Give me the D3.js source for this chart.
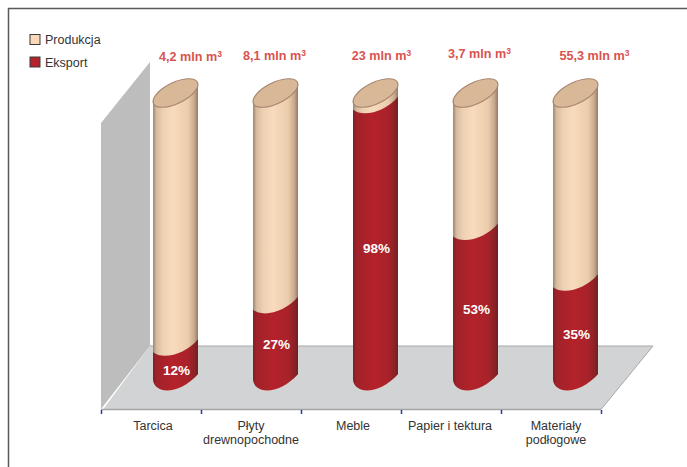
<!DOCTYPE html>
<html>
<head>
<meta charset="utf-8">
<script src="https://cdn.jsdelivr.net/npm/d3@7"></script>
<style>
html, body { margin: 0; padding: 0; background: #fff; }
svg { display: block; }
text { font-family: "Liberation Sans", Arial, sans-serif; }
</style>
</head>
<body>
<div id="container"></div>
<script>
// Data
var categories = ["Tarcica", "Płyty|drewnopochodne", "Meble", "Papier i tektura", "Materiały|podłogowe"];
var volumes = ["4,2", "8,1", "23", "3,7", "55,3"];
var exportShare = [12, 27, 98, 53, 35];
var legendLabels = ["Produkcja", "Eksport"];

// Layout
var w = 687, h = 467;
var depth = 24.5;			// cylinders stand this far behind the band centre
var halfW = 22.5;			// half width of a cylinder
var topY = 93;				// centre of the top ellipse
var volumeDx = [15, -1, 6, 4, 19];
var volumeY = [57, 56, 56, 54, 56];
var labelDx = [2, 0, 2, -1, 5];
var pctDy = [8, 4, 8, 5, 5];

var svg = d3.select("#container").append("svg")
	.attr("width", w)
	.attr("height", h);

var x = d3.scaleBand().domain(categories).range([101, 601]);
var y = d3.scaleLinear().domain([0, 100]).range([380, 98]);

// Gradients
var defs = svg.append("defs");
function gradient(id, stops) {
	var g = defs.append("linearGradient").attr("id", id);
	stops.forEach(function(s) {
		g.append("stop").attr("offset", s[0]).attr("stop-color", s[1]);
	});
}
gradient("peach", [[0, "#a08672"], [0.08, "#d8bca0"], [0.22, "#eed1b2"], [0.45, "#f8dbbd"], [0.78, "#ebcdac"], [0.92, "#c6a88d"], [1, "#96796a"]]);
gradient("red", [[0, "#7c2026"], [0.08, "#a0242b"], [0.45, "#b4242c"], [0.78, "#a8242b"], [0.92, "#8b2026"], [1, "#6d2024"]]);
defs.append("filter").attr("id", "soft")
	.attr("x", "-10%").attr("y", "-10%").attr("width", "120%").attr("height", "120%")
	.append("feGaussianBlur").attr("stdDeviation", 0.6);

// Frame
svg.append("path")
	.attr("d", "M8.5," + h + "V8.5H" + w)
	.attr("fill", "none")
	.attr("stroke", "#5a5a5a")
	.attr("stroke-width", 1.5);

// Wall and floor
svg.append("polygon")
	.attr("points", "101,123 150,62 150,346 101,409")
	.attr("fill", "#bdbdbe");
svg.append("polygon")
	.attr("points", "150,346 653,346 601,409.5 103,409.5")
	.attr("fill", "#d2d3d5");
svg.append("path")
	.attr("d", "M150,346H653L601,409.5")
	.attr("fill", "none")
	.attr("stroke", "#a9a9aa")
	.attr("stroke-width", 1);
svg.append("line")
	.attr("x1", 101).attr("x2", 601)
	.attr("y1", 409.5).attr("y2", 409.5)
	.attr("stroke", "#a3a3a5")
	.attr("stroke-width", 1.5);

// Axis ticks sit on the band edges
var tickX = categories.map(function(c) { return x(c); }).concat([x.range()[1]]);
svg.selectAll("line.tick")
	.data(tickX)
	.enter()
	.append("line")
	.attr("class", "tick")
	.attr("x1", function(d) { return d + 0.5; })
	.attr("x2", function(d) { return d + 0.5; })
	.attr("y1", 410)
	.attr("y2", 414)
	.attr("stroke", "#2438a8")
	.attr("stroke-width", 1.5);

// Category labels
var labels = svg.selectAll("text.cat")
	.data(categories)
	.enter()
	.append("text")
	.attr("class", "cat")
	.attr("text-anchor", "middle")
	.attr("font-size", 12.5)
	.attr("fill", "#333");
labels.selectAll("tspan")
	.data(function(d, i) {
		return d.split("|").map(function(t) {
			return { t: t, x: x(d) + x.bandwidth() / 2 + labelDx[i] };
		});
	})
	.enter()
	.append("tspan")
	.attr("x", function(d) { return d.x; })
	.attr("y", function(d, i) { return 429.5 + i * 14; })
	.text(function(d) { return d.t; });

// Cylinders
function centre(i) { return x(categories[i]) + x.bandwidth() / 2 + depth; }

function bodyPath(cx, top) {
	var p = d3.path();
	p.moveTo(cx - halfW, top + 6);
	p.lineTo(cx - halfW, y(0) - 1);
	p.bezierCurveTo(cx - halfW + 1, y(0) + 15, cx + 4, y(0) + 15, cx + halfW, y(0) - 6);
	p.lineTo(cx + halfW, top - 7);
	return p;
}

// top edge of the body, for the bar and for the export section
function closeTop(p, cx, top) {
	p.bezierCurveTo(cx + 10, top + 8, cx - 12, top + 14, cx - halfW, top + 6);
	p.closePath();
	return p.toString();
}

var bars = svg.append("g").attr("filter", "url(#soft)");

bars.selectAll("path.prod")
	.data(exportShare)
	.enter()
	.append("path")
	.attr("class", "prod")
	.attr("fill", "url(#peach)")
	.attr("d", function(d, i) { return closeTop(bodyPath(centre(i), topY), centre(i), topY); });

bars.selectAll("path.exp")
	.data(exportShare)
	.enter()
	.append("path")
	.attr("class", "exp")
	.attr("fill", "url(#red)")
	.attr("d", function(d, i) { return closeTop(bodyPath(centre(i), y(d)), centre(i), y(d)); });

bars.selectAll("ellipse")
	.data(exportShare)
	.enter()
	.append("ellipse")
	.attr("rx", 24.4)
	.attr("ry", 10.5)
	.attr("transform", function(d, i) { return "translate(" + centre(i) + "," + topY + ") rotate(-26)"; })
	.attr("fill", "#d9b898")
	.attr("stroke", "#a6866f")
	.attr("stroke-width", 1.2);

// Percent labels
svg.selectAll("text.pct")
	.data(exportShare)
	.enter()
	.append("text")
	.attr("class", "pct")
	.attr("x", function(d, i) { return centre(i) + 1; })
	.attr("y", function(d, i) { return y(d / 2) + pctDy[i]; })
	.attr("text-anchor", "middle")
	.attr("dominant-baseline", "middle")
	.attr("font-size", 13.5)
	.attr("font-weight", "bold")
	.attr("fill", "#fff")
	.text(function(d) { return d + "%"; });

// Volume labels
var vol = svg.selectAll("text.vol")
	.data(volumes)
	.enter()
	.append("text")
	.attr("class", "vol")
	.attr("x", function(d, i) { return x(categories[i]) + x.bandwidth() / 2 + depth + volumeDx[i]; })
	.attr("y", function(d, i) { return volumeY[i] + 3.5; })
	.attr("text-anchor", "middle")
	.attr("font-size", 12.6)
	.attr("font-weight", "bold")
	.attr("fill", "#d9534f");
vol.append("tspan").text(function(d) { return d + " mln m"; });
vol.append("tspan").attr("dy", -4).attr("font-size", 8.5).text("3");

// Legend
var legendColors = ["#fbd9b8", "#b3242c"];
var legend = svg.selectAll("g.legend")
	.data(legendLabels)
	.enter()
	.append("g")
	.attr("class", "legend")
	.attr("transform", function(d, i) { return "translate(30," + (34.5 + i * 22.5) + ")"; });
legend.append("rect")
	.attr("width", 10)
	.attr("height", 10)
	.attr("fill", function(d, i) { return legendColors[i]; })
	.attr("stroke", "#3a3a3a")
	.attr("stroke-width", 1);
legend.append("text")
	.attr("x", 15)
	.attr("y", 9.5)
	.attr("font-size", 12.5)
	.attr("fill", "#333")
	.text(function(d) { return d; });
</script>
</body>
</html>
